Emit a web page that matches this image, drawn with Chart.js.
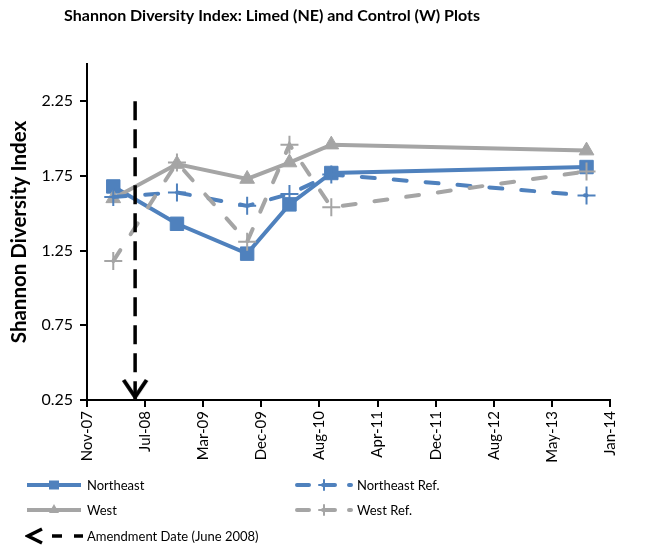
<!DOCTYPE html>
<html>
<head>
<meta charset="utf-8">
<script src="https://cdn.jsdelivr.net/npm/chart.js@4"></script>
<style>
    body { margin: 0; background: #fff; }
    #wrap { position: relative; width: 650px; height: 548px; }
    #legenda { position: absolute; left: 0; top: 0; font: 13px Lato, sans-serif; color: #000; }
    .item { position: absolute; height: 24px; display: flex; align-items: center; white-space: nowrap; }
    .item canvas { margin-right: 4px; }
</style>
</head>
<body>
<div id="wrap">
    <canvas id="grafico" width="650" height="548"></canvas>
    <div id="legenda"></div>
</div>
<script>
var titulo = 'Shannon Diversity Index: Limed (NE) and Control (W) Plots';
var datas = ['2008-03-06', '2008-12-05', '2009-10-03', '2010-04-03', '2010-09-30', '2013-10-02'];
var northeast = [1.68, 1.43, 1.23, 1.56, 1.77, 1.81];
var west = [1.60, 1.83, 1.73, 1.84, 1.96, 1.92];
var northeastRef = [1.61, 1.64, 1.55, 1.63, 1.76, 1.62];
var westRef = [1.18, 1.84, 1.31, 1.96, 1.54, 1.78];
var emendaData = '2008-06-08';
var emendaY = [2.25, 0.25];
var xInicio = '2007-11-14';
var xPasso = 250;
var xLabels = ['Nov-07', 'Jul-08', 'Mar-09', 'Dec-09', 'Aug-10', 'Apr-11', 'Dec-11', 'Aug-12', 'May-13', 'Jan-14'];
var yTicks = [0.25, 0.75, 1.25, 1.75, 2.25];
var yMin = 0.25, yMax = 2.5;

var azul = '#4F81BD';
var cinza = '#A5A5A5';
var fonte = 'Lato, sans-serif';

var dia = function (s) { return Date.parse(s) / 86400000; };
var pontos = function (vals) {
    return vals.map((v, i) => ({x: dia(datas[i]), y: v}));
};

// ponta da seta (V) com a ponta no centro do canvas
var seta = document.createElement('canvas');
seta.width = 30;
seta.height = 44;
var sc = seta.getContext('2d');
sc.strokeStyle = '#000';
sc.lineWidth = 4;
sc.beginPath();
sc.moveTo(3.5, 2);
sc.lineTo(15, 19);
sc.lineTo(26.5, 2);
sc.stroke();

var tituloPlugin = {
    id: 'tituloPlugin',
    afterDraw: function (chart) {
        var ctx = chart.ctx;
        ctx.save();
        ctx.font = 'bold 16px ' + fonte;
        ctx.fillStyle = '#000';
        ctx.textAlign = 'center';
        ctx.fillText(titulo, 272, 21);
        ctx.restore();
    }
};

var eixo = {
    grid: { drawOnChartArea: false, tickLength: 7, color: '#000', lineWidth: 2 },
    border: { color: '#000', width: 2 }
};

var ctx = document.getElementById('grafico');
var grafico = new Chart(ctx, {
    type: 'line',
    data: {
        datasets: [{
            label: 'Northeast',
            data: pontos(northeast),
            borderColor: azul,
            backgroundColor: azul,
            borderWidth: 4,
            pointStyle: 'rect',
            pointRadius: 9.5,
            pointBorderWidth: 1,
            order: 5
        }, {
            label: 'West',
            data: pontos(west),
            borderColor: cinza,
            backgroundColor: cinza,
            borderWidth: 4,
            pointStyle: 'triangle',
            pointRadius: 8.5,
            pointBorderWidth: 1,
            order: 4
        }, {
            label: 'Northeast Ref.',
            data: pontos(northeastRef),
            borderColor: azul,
            backgroundColor: azul,
            borderWidth: 4,
            borderDash: [13, 19],
            borderCapStyle: 'round',
            pointStyle: 'cross',
            pointRadius: 9,
            pointBorderWidth: 2,
            order: 3
        }, {
            label: 'West Ref.',
            data: pontos(westRef),
            borderColor: cinza,
            backgroundColor: cinza,
            borderWidth: 4,
            borderDash: [13, 19],
            borderCapStyle: 'round',
            pointStyle: 'cross',
            pointRadius: 9,
            pointBorderWidth: 2,
            order: 2
        }, {
            label: 'Amendment Date (June 2008)',
            data: emendaY.map(v => ({x: dia(emendaData), y: v})),
            borderColor: '#000',
            backgroundColor: '#000',
            borderWidth: 3.5,
            borderDash: [19, 9],
            pointStyle: seta,
            pointRadius: [0, 5],
            seta: true,
            order: 1
        }]
    },
    options: {
        responsive: false,
        animation: false,
        layout: { padding: { left: 4, top: 64, right: 40, bottom: 80 } },
        plugins: {
            legend: { display: false },
            tooltip: { enabled: false }
        },
        scales: {
            x: Object.assign({}, eixo, {
                type: 'linear',
                min: dia(xInicio),
                max: dia(xInicio) + xPasso * (xLabels.length - 1),
                afterBuildTicks: function (s) {
                    s.ticks = xLabels.map((l, i) => ({value: s.min + i * xPasso}));
                },
                afterFit: function (s) { s.height = 68; },
                ticks: {
                    autoSkip: false,
                    minRotation: 90,
                    maxRotation: 90,
                    padding: 4,
                    color: '#000',
                    font: { family: fonte, size: 15 },
                    callback: function (v, i) { return xLabels[i]; }
                }
            }),
            y: Object.assign({}, eixo, {
                min: yMin,
                max: yMax,
                afterBuildTicks: function (s) {
                    s.ticks = yTicks.map(v => ({value: v}));
                },
                afterFit: function (s) { s.width = 83; },
                ticks: {
                    padding: 7,
                    color: '#000',
                    font: { family: fonte, size: 16 },
                    callback: function (v) { return v.toFixed(2); }
                },
                title: {
                    display: true,
                    text: 'Shannon Diversity Index',
                    color: '#000',
                    font: { family: fonte, size: 20.5, weight: 'bold' },
                    padding: { top: 3, bottom: 0 }
                }
            })
        }
    },
    plugins: [tituloPlugin]
});

// amostra de linha + marcador para a legenda
function amostra(ds) {
    var cv = document.createElement('canvas');
    cv.width = 58;
    cv.height = 20;
    var c = cv.getContext('2d');
    var y = 10;
    c.strokeStyle = ds.borderColor;
    c.fillStyle = ds.borderColor;
    c.lineWidth = ds.seta ? 3.5 : 4;
    if (ds.seta) {
        c.beginPath();
        c.moveTo(17, y - 7);
        c.lineTo(3, y);
        c.lineTo(17, y + 7);
        c.stroke();
        c.setLineDash([10, 12]);
        c.beginPath();
        c.moveTo(27, y);
        c.lineTo(58, y);
        c.stroke();
        return cv;
    }
    if (ds.borderDash) {
        c.lineCap = 'round';
        c.setLineDash([12, 14]);
    }
    c.beginPath();
    c.moveTo(2, y);
    c.lineTo(56, y);
    c.stroke();
    c.setLineDash([]);
    var mx = 29;
    if (ds.pointStyle === 'rect') {
        c.fillRect(mx - 5, y - 4.5, 10, 9);
    } else if (ds.pointStyle === 'triangle') {
        c.beginPath();
        c.moveTo(mx, y - 6);
        c.lineTo(mx + 5, y + 3);
        c.lineTo(mx - 5, y + 3);
        c.closePath();
        c.fill();
    } else if (ds.pointStyle === 'cross') {
        c.lineWidth = 2;
        c.beginPath();
        c.moveTo(mx - 5, y);
        c.lineTo(mx + 5, y);
        c.moveTo(mx, y - 5);
        c.lineTo(mx, y + 5);
        c.stroke();
    }
    return cv;
}

var posicoes = {
    'Northeast': [25, 485],
    'Northeast Ref.': [295, 485],
    'West': [25, 510],
    'West Ref.': [295, 510],
    'Amendment Date (June 2008)': [25, 536]
};
var legenda = document.getElementById('legenda');
grafico.data.datasets.forEach(ds => {
    var p = posicoes[ds.label];
    var item = document.createElement('div');
    item.className = 'item';
    item.style.left = p[0] + 'px';
    item.style.top = (p[1] - 12) + 'px';
    item.appendChild(amostra(ds));
    var txt = document.createElement('span');
    txt.textContent = ds.label;
    item.appendChild(txt);
    legenda.appendChild(item);
});
</script>
</body>
</html>
